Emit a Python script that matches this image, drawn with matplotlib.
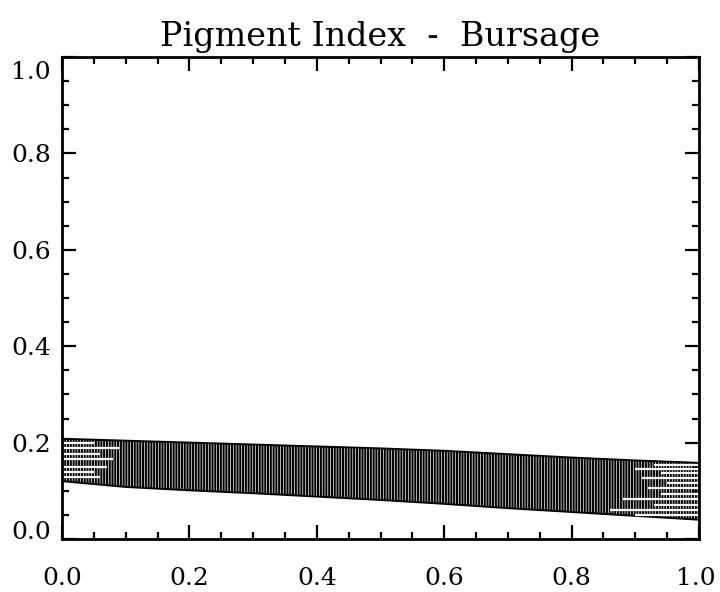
import matplotlib
matplotlib.use("Agg")
import matplotlib.pyplot as plt
from matplotlib.ticker import MultipleLocator, FixedLocator, FixedFormatter
from matplotlib.transforms import ScaledTranslation

plt.rcParams['font.family'] = ['DejaVu Serif']
plt.rcParams['hatch.linewidth'] = 1.5

# Envelope of the pigment index curves
x_pts = [0.0, 0.1, 0.2, 0.3, 0.4, 0.5, 0.6, 0.7, 0.8, 0.9, 1.0]
upper = [0.208, 0.204, 0.200, 0.196, 0.192, 0.188, 0.183, 0.176, 0.169, 0.163, 0.158]
lower = [0.120, 0.108, 0.101, 0.095, 0.088, 0.081, 0.073, 0.064, 0.056, 0.048, 0.040]

# Individual curves that stand out at the ends of the range
left_y = [0.200, 0.188, 0.176, 0.165, 0.150, 0.138, 0.128]
left_x_end = [0.05, 0.09, 0.06, 0.08, 0.07, 0.05, 0.06]
right_y = [0.154, 0.146, 0.137, 0.127, 0.116, 0.106, 0.094, 0.082, 0.071, 0.060, 0.050]
right_x_start = [0.93, 0.90, 0.94, 0.91, 0.95, 0.92, 0.94, 0.88, 0.93, 0.86, 0.90]

xticks = [0.0, 0.2, 0.4, 0.6, 0.8, 1.0]
xticklabels = ['0.0', '0.2', '0.4', '0.6', '0.8', '1.0']
yticks = [0.0, 0.2, 0.4, 0.6, 0.8, 1.0]
yticklabels = ['0.0', '0.2', '0.4', '0.6', '0.8', '1.0']

fig = plt.figure(figsize=(7.2, 5.92), dpi=100)
ax = fig.add_axes([62 / 720, 1 - 539 / 592, 637 / 720, 482 / 592])

ax.fill_between(x_pts, lower, upper, facecolor='white', edgecolor='black',
                hatch='||||||', linewidth=1.4)

# light gaps between neighbouring curves near the ends
ax.hlines(left_y, 0.0, left_x_end, colors='white', linewidth=1.6)
ax.hlines(right_y, right_x_start, 1.0, colors='white', linewidth=1.6)

ax.set_xlim(0, 1)
ax.set_ylim(0, 1.0)

ax.xaxis.set_major_locator(FixedLocator(xticks))
ax.xaxis.set_major_formatter(FixedFormatter(xticklabels))
ax.yaxis.set_major_locator(FixedLocator(yticks))
ax.yaxis.set_major_formatter(FixedFormatter(yticklabels))
ax.xaxis.set_minor_locator(MultipleLocator(0.05))
ax.yaxis.set_minor_locator(MultipleLocator(0.05))

ax.tick_params(which='both', direction='in', top=True, right=True,
               width=1.6, colors='black', labelsize=18)
ax.tick_params(which='major', length=10)
ax.tick_params(which='minor', length=5)
ax.tick_params(axis='x', which='major', pad=20)
ax.tick_params(axis='y', which='major', pad=8)

for s in ax.spines.values():
    s.set_linewidth(2.0)

ax.set_title('Pigment Index  -  Bursage', fontsize=24, pad=8)

# nudge the end labels so they sit clear of the frame edges
fig.canvas.draw()
ylabels = ax.yaxis.get_major_ticks()
ylabels[0].label1.set_transform(ylabels[0].label1.get_transform() +
                                ScaledTranslation(0, 9 / 100, fig.dpi_scale_trans))
ylabels[-1].label1.set_transform(ylabels[-1].label1.get_transform() +
                                 ScaledTranslation(0, -13 / 100, fig.dpi_scale_trans))
xlabels = ax.xaxis.get_major_ticks()
xlabels[-1].label1.set_transform(xlabels[-1].label1.get_transform() +
                                 ScaledTranslation(-3 / 100, 0, fig.dpi_scale_trans))

fig.savefig('out.png', dpi=100)
